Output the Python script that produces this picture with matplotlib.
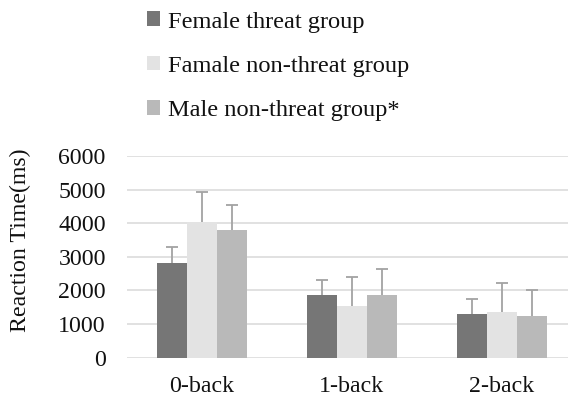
import matplotlib
matplotlib.use("Agg")
import matplotlib.pyplot as plt
import numpy as np
from matplotlib.patches import Patch

categories = ["0-back", "1-back", "2-back"]
series_names = ["Female threat group", "Famale non-threat group", "Male non-threat group*"]
female_threat = [2830, 1860, 1290]
female_nonthreat = [4040, 1550, 1350]
male_nonthreat = [3790, 1870, 1250]
female_threat_err = [450, 455, 445]
female_nonthreat_err = [885, 860, 870]
male_nonthreat_err = [755, 770, 765]
yticks = [0, 1000, 2000, 3000, 4000, 5000, 6000]

colors = ["#767676", "#e3e3e3", "#b9b9b9"]
err_color = "#a3a3a3"

plt.rcParams['font.family'] = ['Liberation Serif', 'DejaVu Serif']

fig = plt.figure(figsize=(5.68, 3.99), dpi=100)
W, H = 568, 399
ax = fig.add_axes([126.7 / W, 41.3 / H, 450 / W, 201.7 / H])

x = np.arange(len(categories))
width = 0.2
values = [female_threat, female_nonthreat, male_nonthreat]
errs = [female_threat_err, female_nonthreat_err, male_nonthreat_err]
for i, (vals, e) in enumerate(zip(values, errs)):
    pos = x + (i - 1) * width
    ax.bar(pos, vals, width, color=colors[i], zorder=2)
    _, caps, _ = ax.errorbar(pos, vals, yerr=[np.zeros(len(e)), e], fmt='none',
                             ecolor=err_color, elinewidth=1.3, capsize=4.3, capthick=1.3, zorder=3)
    caps[0].set_visible(False)

ax.set_xlim(-0.5, 2.5)
ax.set_ylim(0, 6000)
ax.set_yticks(yticks)
ax.set_yticklabels([str(v) for v in yticks])
ax.set_xticks(x)
ax.set_xticklabels(categories)
ax.grid(axis='y', color='#d9d9d9', linewidth=1.1, zorder=0)
ax.set_axisbelow(True)
for s in ax.spines.values():
    s.set_visible(False)
ax.tick_params(axis='both', length=0, labelsize=17.2, colors='#111111')
ax.tick_params(axis='y', pad=15)
ax.tick_params(axis='x', pad=13)

fig.text(20 / W, 1 - 240 / H, "Reaction Time(ms)", rotation=90, ha='center', va='center',
         fontsize=17.2, color='#111111')

handles = [Patch(facecolor=c, edgecolor='none') for c in colors]
leg = fig.legend(handles, series_names, loc='upper left', bbox_to_anchor=(147 / W, 1 - 11.5 / H),
                 frameon=False, fontsize=17.6, handlelength=0.55, handleheight=0.55,
                 handletextpad=0.3, labelspacing=0.95, borderaxespad=0, borderpad=0)
for t in leg.get_texts():
    t.set_color('#111111')

fig.savefig("out.png", dpi=100)
